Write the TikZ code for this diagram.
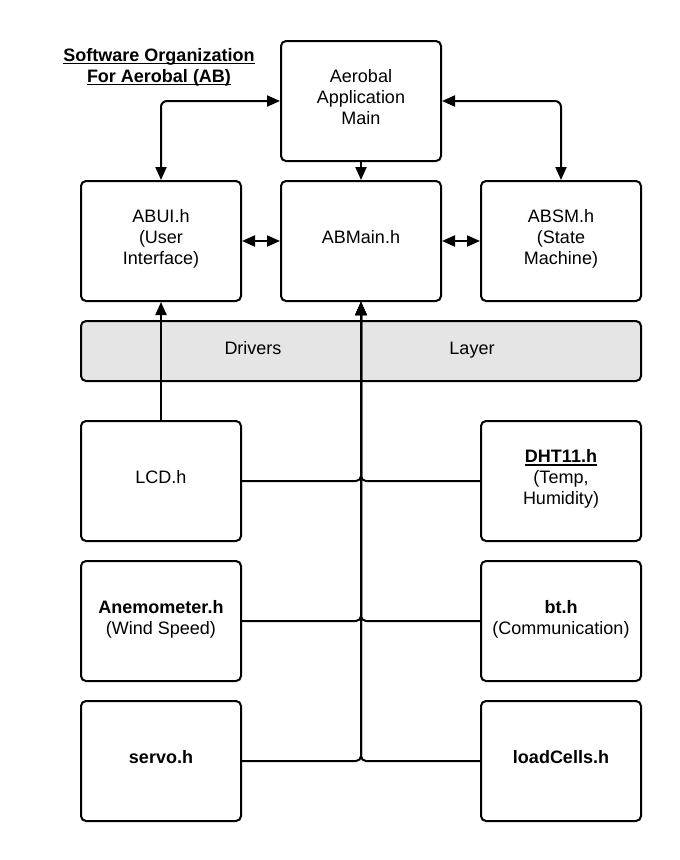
\documentclass[tikz,border=0pt]{standalone}
\usepackage{fontspec}
\setmainfont{Liberation Sans}
\usetikzlibrary{arrows.meta}
\newcommand\myul[1]{\setbox0\hbox{#1}\rlap{\rule[-3pt]{\wd0}{1.6pt}}\box0}
\newcommand\tbox[1]{\raisebox{1.5pt}[\height][\depth]{\begin{tabular}{@{}c@{}}#1\end{tabular}}}
\begin{document}
\begin{tikzpicture}[x=1pt,y=-1pt,
  box/.style={draw, line width=2pt, rounded corners=5pt, minimum width=160pt,
    minimum height=120pt, inner sep=0pt,
    font=\fontsize{18}{21}\selectfont, anchor=north west},
  layerbox/.style={draw, line width=2pt, rounded corners=5pt, fill=gray!20,
    minimum width=560pt, minimum height=60pt, inner sep=0pt, anchor=north west},
  txt/.style={font=\fontsize{18}{21}\selectfont, inner sep=0pt},
  conn/.style={line width=2pt},
  tip/.style={-{Triangle[length=13pt,width=11pt]}},
  tips/.style={{Triangle[length=13pt,width=11pt]}-{Triangle[length=13pt,width=11pt]}}]
\useasboundingbox (0,0) rectangle (680,860);
% title
\node[txt, align=center, font=\fontsize{18}{21}\selectfont\bfseries] (title) at (159,67)
  {\myul{Software Organization}\\\myul{For Aerobal (AB)}};
% boxes
\node[box] (aero) at (280,40) {\tbox{Aerobal\\Application\\Main}};
\node[box] (abui) at (80,180) {\tbox{ABUI.h\\(User\\Interface)}};
\node[box] (abmain) at (280,180) {\tbox{ABMain.h}};
\node[box] (absm) at (480,180) {\tbox{ABSM.h\\(State\\Machine)}};
\node[layerbox] (layer) at (80,320) {};
\node[txt, anchor=base] (drv) at (253,354) {Drivers};
\node[txt, anchor=base] (lay) at (472,354) {Layer};
\node[box] (lcd) at (80,420) {\tbox{LCD.h}};
\node[box] (dht) at (480,420) {\tbox{\myul{\textbf{DHT11.h}}\\(Temp,\\Humidity)}};
\node[box] (anem) at (80,560) {\tbox{\textbf{Anemometer.h}\\(Wind Speed)}};
\node[box] (bt) at (480,560) {\tbox{\textbf{bt.h}\\(Communication)}};
\node[box] (servo) at (80,700) {\tbox{\textbf{servo.h}}};
\node[box] (load) at (480,700) {\tbox{\textbf{loadCells.h}}};
% connectors
\draw[conn, tips, rounded corners=6pt] (abui.north) |- (aero.west);
\draw[conn, tips, rounded corners=6pt] (absm.north) |- (aero.east);
\draw[conn, tip] (aero.south) -- (abmain.north);
\draw[conn, tips] (abui.east) -- (abmain.west);
\draw[conn, tips] (abmain.east) -- (absm.west);
\draw[conn, tip] (lcd.north) -- (abui.south);
\draw[conn, tip, rounded corners=5pt] (lcd.east) -| (abmain.south);
\draw[conn, tip, rounded corners=5pt] (dht.west) -| (abmain.south);
\draw[conn, tip, rounded corners=5pt] (anem.east) -| (abmain.south);
\draw[conn, tip, rounded corners=5pt] (bt.west) -| (abmain.south);
\draw[conn, tip, rounded corners=5pt] (servo.east) -| (abmain.south);
\draw[conn, tip, rounded corners=5pt] (load.west) -| (abmain.south);
\end{tikzpicture}
\end{document}
